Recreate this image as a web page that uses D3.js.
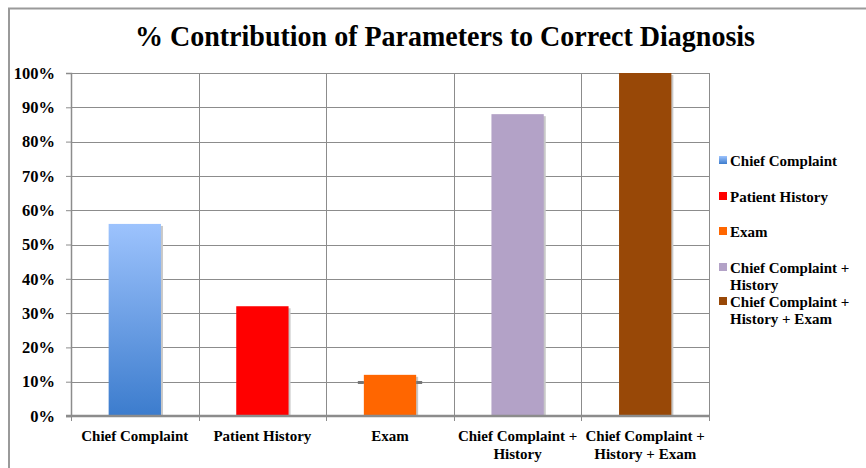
<!DOCTYPE html>
<html>
<head>
<meta charset="utf-8">
<script src="https://cdn.jsdelivr.net/npm/d3@7"></script>
<style>
  body { margin: 0; background: #fff; }
  text { font-family: "Liberation Serif", "DejaVu Serif", serif; font-weight: bold; fill: #000; }
</style>
</head>
<body>
<div id="chart"></div>
<script>
const width = 866;
const height = 468;
const margin = { left: 71, right: 157, top: 73, bottom: 52 };
const plot_w = width - margin.left - margin.right;
const plot_h = height - margin.top - margin.bottom;

// data
const categories = ["Chief Complaint", "Patient History", "Exam", "Chief Complaint + History", "Chief Complaint + History + Exam"];
const values = [0.56, 0.32, 0.12, 0.88, 1.00];
const colors = ["#5b93e0", "#ff0000", "#ff6600", "#b3a2c7", "#984807"];
const x_labels = [["Chief Complaint"], ["Patient History"], ["Exam"], ["Chief Complaint +", "History"], ["Chief Complaint +", "History + Exam"]];
const legend_labels = [["Chief Complaint"], ["Patient History"], ["Exam"], ["Chief Complaint +", "History"], ["Chief Complaint +", "History + Exam"]];
const y_ticks = [0, 0.1, 0.2, 0.3, 0.4, 0.5, 0.6, 0.7, 0.8, 0.9, 1.0];

const svg_root = d3.select('#chart')
  .append('svg')
    .attr('width', width)
    .attr('height', height);

const defs = svg_root.append('defs');
const grad = defs.append('linearGradient')
  .attr('id', 'blue-grad')
  .attr('x1', 0).attr('y1', 0).attr('x2', 0).attr('y2', 1);
grad.append('stop').attr('offset', '0%').attr('stop-color', '#9dc3fd');
grad.append('stop').attr('offset', '100%').attr('stop-color', '#3c7ccd');

// outer frame
svg_root.append('path')
  .attr('d', `M9,${height} L9,8.5 L${width},8.5`)
  .attr('fill', 'none')
  .attr('stroke', '#9a9a9a')
  .attr('stroke-width', 2);

// title
svg_root.append('text')
  .attr('x', 445)
  .attr('y', 46)
  .attr('text-anchor', 'middle')
  .attr('font-size', 30)
  .attr('textLength', 620)
  .attr('lengthAdjust', 'spacingAndGlyphs')
  .text('% Contribution of Parameters to Correct Diagnosis');

const svg = svg_root.append('g')
  .attr('transform', `translate(${margin.left},${margin.top})`);

const x_scale = d3.scaleBand()
  .domain(categories)
  .range([0, plot_w])
  .paddingInner(0.59)
  .paddingOuter(0.295);
const y_scale = d3.scaleLinear()
  .domain([0, 1])
  .range([plot_h, 0]);

// horizontal gridlines
svg.selectAll('.hgrid')
    .data(y_ticks.slice(1))
  .join('line')
    .attr('class', 'hgrid')
    .attr('x1', 0)
    .attr('x2', plot_w)
    .attr('y1', d => Math.round(y_scale(d)) + 0.5)
    .attr('y2', d => Math.round(y_scale(d)) + 0.5)
    .attr('stroke', '#8c8c8c')
    .attr('stroke-width', 1);

// vertical gridlines at band boundaries
const boundaries = d3.range(categories.length + 1).map(i => i * plot_w / categories.length);
svg.selectAll('.vgrid')
    .data(boundaries.slice(1))
  .join('line')
    .attr('class', 'vgrid')
    .attr('x1', d => Math.round(d) + 0.5)
    .attr('x2', d => Math.round(d) + 0.5)
    .attr('y1', 0)
    .attr('y2', plot_h + 5)
    .attr('stroke', '#8c8c8c');

// bar shadows
svg.selectAll('.shadow')
    .data(values)
  .join('rect')
    .attr('class', 'shadow')
    .attr('x', (d, i) => x_scale(categories[i]) + 2)
    .attr('y', d => y_scale(d) + 2)
    .attr('width', x_scale.bandwidth())
    .attr('height', d => plot_h - y_scale(d) - 2)
    .attr('fill', '#c8c8c8');

// bars
svg.selectAll('.bar')
    .data(values)
  .join('rect')
    .attr('class', 'bar')
    .attr('x', (d, i) => x_scale(categories[i]))
    .attr('y', d => y_scale(d))
    .attr('width', x_scale.bandwidth())
    .attr('height', d => plot_h - y_scale(d))
    .attr('fill', (d, i) => i === 0 ? 'url(#blue-grad)' : colors[i]);

// small dark stubs beside the Exam bar on the 10% line
const exam_x = x_scale("Exam");
[[exam_x - 6, exam_x], [exam_x + x_scale.bandwidth(), exam_x + x_scale.bandwidth() + 6]].forEach(seg => {
  svg.append('line')
    .attr('x1', seg[0]).attr('x2', seg[1])
    .attr('y1', Math.round(y_scale(0.1)) + 0.5)
    .attr('y2', Math.round(y_scale(0.1)) + 0.5)
    .attr('stroke', '#777')
    .attr('stroke-width', 3);
});

// y axis
const y_axis = svg.append('g')
  .call(d3.axisLeft(y_scale)
    .tickValues(y_ticks)
    .tickSize(5)
    .tickFormat(d3.format('.0%')));
y_axis.select('.domain').attr('stroke', '#8c8c8c').attr('stroke-width', 1.5);
y_axis.selectAll('.tick line').attr('stroke', '#8c8c8c');
y_axis.selectAll('.tick text')
  .attr('x', -16)
  .attr('font-size', 16.5)
  .attr('font-family', '"Liberation Serif", serif')
  .attr('font-weight', 'bold')
  .attr('fill', '#000');

// x axis baseline
svg.append('line')
  .attr('x1', -5).attr('x2', plot_w)
  .attr('y1', plot_h).attr('y2', plot_h)
  .attr('stroke', '#8c8c8c')
  .attr('stroke-width', 2.5);
svg.append('line')
  .attr('x1', 0.5).attr('x2', 0.5)
  .attr('y1', plot_h).attr('y2', plot_h + 5)
  .attr('stroke', '#8c8c8c');

// x labels
const xl = svg.selectAll('.xlabel')
    .data(x_labels)
  .join('text')
    .attr('class', 'xlabel')
    .attr('text-anchor', 'middle')
    .attr('font-size', 15)
    .attr('transform', (d, i) => `translate(${x_scale(categories[i]) + x_scale.bandwidth() / 2},${plot_h + 25})`);
xl.selectAll('tspan')
    .data(d => d)
  .join('tspan')
    .attr('x', 0)
    .attr('y', (d, i) => i * 18)
    .text(d => d);

// legend
const legend_y = [166, 202, 237, 273, 307];
const legend = svg_root.append('g');
legend_labels.forEach((lines, i) => {
  legend.append('rect')
    .attr('x', 719)
    .attr('y', legend_y[i] - 10)
    .attr('width', 8)
    .attr('height', 8)
    .attr('fill', i === 0 ? 'url(#blue-grad)' : colors[i]);
  const t = legend.append('text')
    .attr('font-size', 15);
  t.selectAll('tspan')
      .data(lines)
    .join('tspan')
      .attr('x', 730)
      .attr('y', (d, j) => legend_y[i] + j * 17)
      .text(d => d);
});
</script>
</body>
</html>
